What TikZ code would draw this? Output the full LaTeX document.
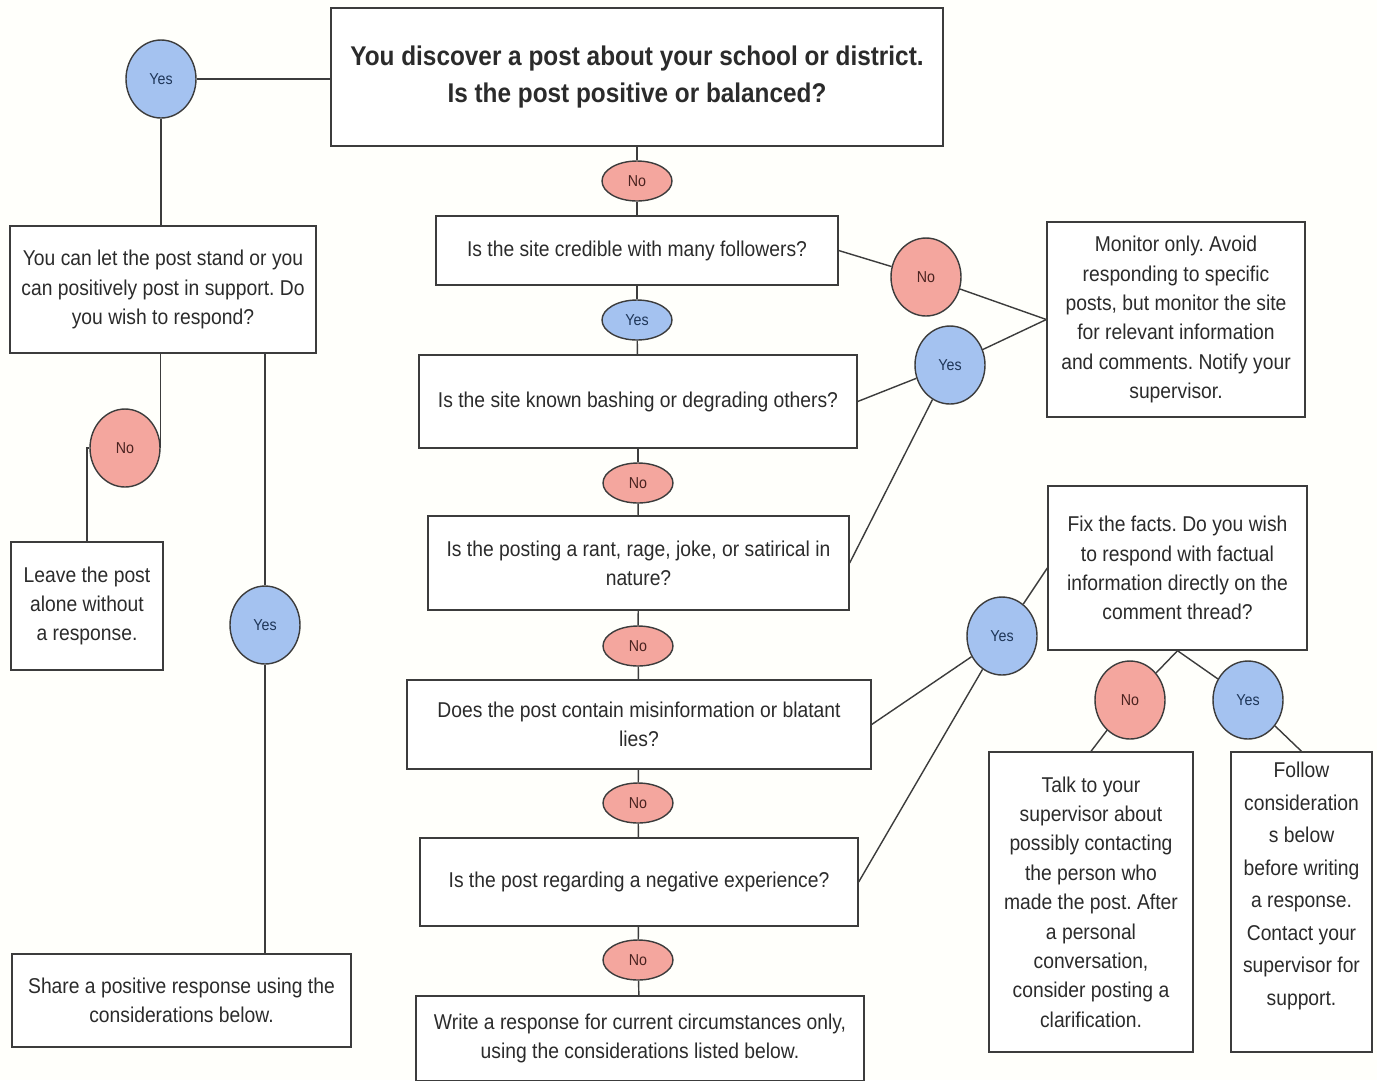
\documentclass[tikz,border=0pt]{standalone}
\usepackage{fontspec}
\setmainfont[FakeStretch=0.9]{Liberation Sans}
\usetikzlibrary{shapes.geometric}
\frenchspacing
\definecolor{ink}{HTML}{2B2B2B}
\definecolor{line}{HTML}{3C3C3C}
\definecolor{paper}{HTML}{FFFFFB}
\definecolor{yesfill}{HTML}{A4C2F0}
\definecolor{nofill}{HTML}{F4A69E}
\definecolor{yestext}{HTML}{1E3557}
\definecolor{notext}{HTML}{4A2320}
\newcommand\bodyfont{\fontsize{12.2}{16.7}\selectfont}
\newcommand\titlefont{\fontsize{15.4}{21}\selectfont\bfseries}
\newcommand\tagfont{\fontsize{9}{10}\selectfont}

\begin{document}
\begin{tikzpicture}[
  x=0.02cm,y=-0.02cm,
  box/.style={draw=line,line width=.8pt,fill=white,inner sep=0pt,align=center,text=ink,font=\bodyfont},
  yesdot/.style={ellipse,draw=line,line width=.8pt,fill=yesfill,text=yestext,font=\tagfont,inner sep=0pt,minimum width=1.4cm,minimum height=1.56cm},
  nodot/.style={yesdot,fill=nofill,text=notext},
  yespill/.style={yesdot,minimum height=.8cm},
  nopill/.style={nodot,minimum height=.8cm},
  link/.style={draw=line,line width=.8pt}
]
\fill[paper] (0,0) rectangle (1377,1080);
\useasboundingbox (0,0) rectangle (1377,1080);

\node[box,font=\titlefont,minimum width=12.24cm,minimum height=2.76cm] (post) at (637,77) {You discover a post about your school or district.\\Is the post positive or balanced?};

\node[yesdot] (yesA) at (161,79) {Yes};
\node[box,minimum width=6.12cm,minimum height=2.54cm] (stand) at (163,289.5) {You can let the post stand or you\\can positively post in support. Do\\you wish to respond?};
\node[nodot] (noA) at (125,448) {No};
\node[box,minimum width=3.04cm,minimum height=2.56cm] (leave) at (87,606) {Leave the post\\alone without\\a response.};
\node[yesdot] (yesB) at (265,625) {Yes};
\node[box,minimum width=6.78cm,minimum height=1.86cm] (share) at (181.5,1000.5) {Share a positive response using the\\considerations below.};

\node[nopill] (noB) at (637,181) {No};
\node[box,minimum width=8.04cm,minimum height=1.38cm] (credible) at (637,250.5) {Is the site credible with many followers?};
\node[yespill] (yesC) at (637,320) {Yes};
\node[box,minimum width=8.76cm,minimum height=1.86cm] (bashing) at (638,401.5) {Is the site known bashing or degrading others?};
\node[nopill] (noC) at (638,483) {No};
\node[box,minimum width=8.42cm,minimum height=1.88cm] (rant) at (638.5,563) {Is the posting a rant, rage, joke, or satirical in\\nature?};
\node[nopill] (noD) at (638,646) {No};
\node[box,minimum width=9.28cm,minimum height=1.78cm] (lies) at (639,724.5) {Does the post contain misinformation or blatant\\lies?};
\node[nopill] (noE) at (638,803) {No};
\node[box,minimum width=8.76cm,minimum height=1.76cm] (negative) at (639,882) {Is the post regarding a negative experience?};
\node[nopill] (noF) at (638,960) {No};
\node[box,minimum width=8.96cm,minimum height=1.70cm] (write) at (640,1038.5) {Write a response for current circumstances only,\\using the considerations listed below.};

\node[nodot] (noG) at (926,277) {No};
\node[yesdot] (yesD) at (950,365) {Yes};
\node[box,minimum width=5.16cm,minimum height=3.90cm] (monitor) at (1176,319.5) {Monitor only. Avoid\\responding to specific\\posts, but monitor the site\\for relevant information\\and comments. Notify your\\supervisor.};
\node[yesdot] (yesE) at (1002,636) {Yes};
\node[box,minimum width=5.18cm,minimum height=3.28cm] (facts) at (1177.5,568) {Fix the facts. Do you wish\\to respond with factual\\information directly on the\\comment thread?};
\node[nodot] (noH) at (1130,700) {No};
\node[yesdot] (yesF) at (1248,700) {Yes};
\node[box,minimum width=4.08cm,minimum height=6cm] (talk) at (1091,902) {Talk to your\\supervisor about\\possibly contacting\\the person who\\made the post. After\\a personal\\conversation,\\consider posting a\\clarification.};
\node[box,font=\fontsize{12.2}{18.5}\selectfont,minimum width=2.82cm,minimum height=6cm,text depth=21pt] (follow) at (1301.5,902) {Follow\\consideration\\s below\\before writing\\a response.\\Contact your\\supervisor for\\support.};

\draw[link] (yesA.east) -- (yesA.east -| post.west);
\draw[link] (yesA.south) -- (yesA.south |- stand.north);
\draw[link] (noA.east |- stand.south) -- (noA.east);
\draw[link] (noA.west) -| (leave.north);
\draw[link] (yesB.north |- stand.south) -- (yesB.north);
\draw[link] (yesB.south) -- (yesB.south |- share.north);

\foreach \a/\b in {post/noB,noB/credible,credible/yesC,yesC/bashing,bashing/noC,noC/rant,rant/noD,noD/lies,lies/noE,noE/negative,negative/noF,noF/write}
  \draw[link] (\a) -- (\b);

\draw[link] (credible.east) -- (noG) -- (monitor.west);
\draw[link] (bashing.east) -- (yesD) -- (monitor.west);
\draw[link] (rant.east) -- (yesD);
\draw[link] (lies.east) -- (yesE) -- (facts.west);
\draw[link] (negative.east) -- (yesE);
\draw[link] (facts.south) -- (noH) -- (talk.north);
\draw[link] (facts.south) -- (yesF) -- (follow.north);
\end{tikzpicture}
\end{document}
